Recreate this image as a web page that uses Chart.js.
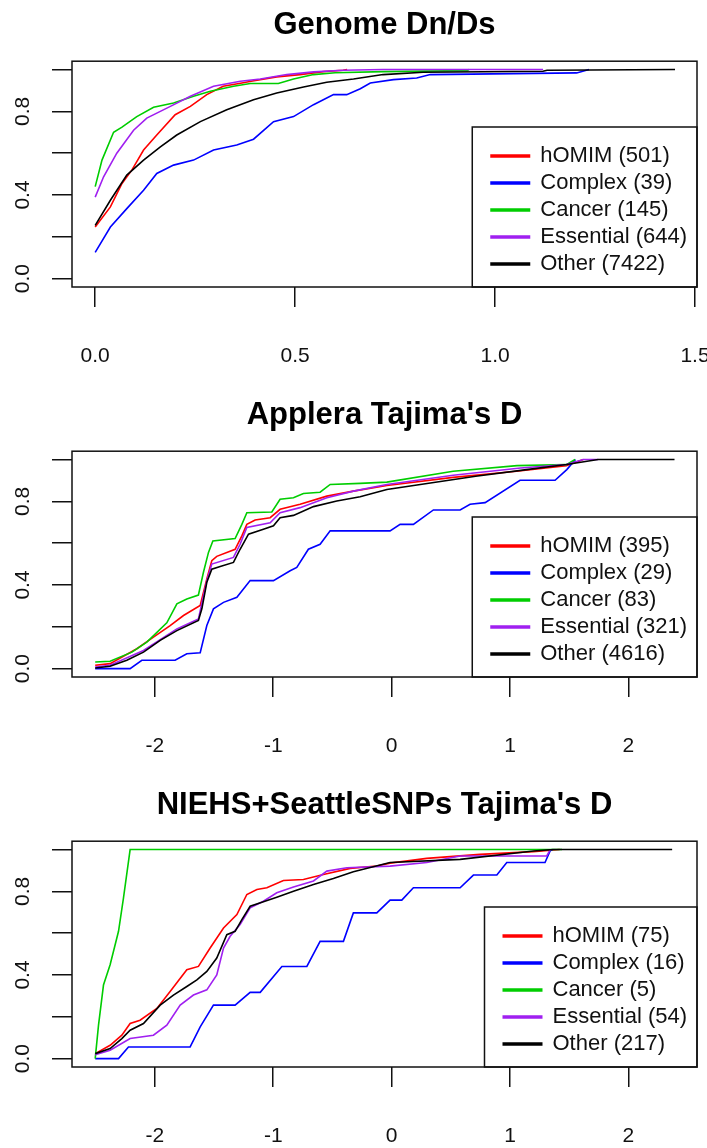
<!DOCTYPE html>
<html>
<head>
<meta charset="utf-8">
<title>ECDF panels</title>
<script src="https://cdn.jsdelivr.net/npm/chart.js@4.4.1/dist/chart.umd.min.js"></script>
<style>
  html, body { margin: 0; padding: 0; background: #fff; }
  #page { position: relative; width: 707px; height: 1148px; overflow: hidden; }
  .panel { position: absolute; left: 0; width: 707px; height: 389px; }
</style>
</head>
<body>
<div id="page">
  <div class="panel" style="top:0px"><canvas id="dndsChart"></canvas></div>
  <div class="panel" style="top:390px"><canvas id="appleraChart"></canvas></div>
  <div class="panel" style="top:780px"><canvas id="niehsChart"></canvas></div>
</div>
<script>
// series order and colours used in every panel
const seriesNames = ['hOMIM', 'Complex', 'Cancer', 'Essential', 'Other'];
const seriesColors = ['#ff0000', '#0000ff', '#00cd00', '#a020f0', '#000000'];

const yTickValues = [0, 0.2, 0.4, 0.6, 0.8, 1.0];
const yTickLabels = ['0.0', '', '0.4', '', '0.8', ''];

// Genome Dn/Ds
const dndsCounts = [501, 39, 145, 644, 7422];
const dndsTicks = [0, 0.5, 1.0, 1.5];
const dndsTickLabels = ['0.0', '0.5', '1.0', '1.5'];
const dndsHomim = [[0,0.247],[0.038,0.343],[0.067,0.455],[0.092,0.52],[0.121,0.615],[0.154,0.687],[0.2,0.784],[0.238,0.824],[0.279,0.88],[0.32,0.92],[0.367,0.936],[0.39,0.944],[0.454,0.965],[0.512,0.976],[0.571,0.99],[0.62,0.997],[0.63,1.0]];
const dndsComplex = [[0,0.126],[0.038,0.247],[0.079,0.335],[0.121,0.423],[0.154,0.503],[0.196,0.543],[0.246,0.567],[0.296,0.615],[0.354,0.639],[0.396,0.667],[0.446,0.751],[0.496,0.775],[0.546,0.832],[0.596,0.88],[0.629,0.88],[0.663,0.908],[0.688,0.936],[0.746,0.952],[0.804,0.96],[0.838,0.976],[1.204,0.984],[1.235,1.0]];
const dndsCancer = [[0,0.44],[0.017,0.567],[0.046,0.70],[0.067,0.725],[0.104,0.775],[0.146,0.82],[0.196,0.84],[0.246,0.872],[0.288,0.896],[0.346,0.92],[0.388,0.933],[0.458,0.933],[0.496,0.955],[0.546,0.976],[0.6,0.985],[0.72,0.99],[0.93,0.995],[0.935,1.0]];
const dndsEssential = [[0,0.39],[0.021,0.487],[0.054,0.6],[0.096,0.71],[0.129,0.768],[0.188,0.824],[0.238,0.872],[0.296,0.92],[0.363,0.944],[0.413,0.955],[0.479,0.976],[0.546,0.989],[0.62,0.997],[0.72,1.0],[1.12,1.0]];
const dndsOther = [[0,0.255],[0.038,0.375],[0.079,0.495],[0.121,0.567],[0.163,0.63],[0.204,0.687],[0.263,0.751],[0.329,0.808],[0.396,0.856],[0.454,0.888],[0.521,0.917],[0.579,0.939],[0.646,0.955],[0.72,0.976],[0.82,0.987],[1.12,0.992],[1.13,0.997],[1.45,1.0]];

// Applera Tajima's D
const appleraCounts = [395, 29, 83, 321, 4616];
const tajimaTicks = [-2, -1, 0, 1, 2];
const tajimaTickLabels = ['-2', '-1', '0', '1', '2'];
const appleraHomim = [[-2.504,0.016],[-2.378,0.024],[-2.152,0.095],[-2.012,0.151],[-1.871,0.206],[-1.758,0.254],[-1.617,0.302],[-1.561,0.429],[-1.519,0.516],[-1.477,0.537],[-1.322,0.571],[-1.265,0.635],[-1.223,0.69],[-1.153,0.711],[-1.026,0.722],[-0.942,0.762],[-0.773,0.786],[-0.547,0.825],[-0.323,0.849],[-0.04,0.876],[0.52,0.915],[1.056,0.944],[1.477,0.971],[1.62,1.0]];
const appleraComplex = [[-2.504,0],[-2.209,0],[-2.11,0.04],[-1.829,0.04],[-1.73,0.071],[-1.617,0.076],[-1.561,0.206],[-1.505,0.286],[-1.42,0.317],[-1.307,0.341],[-1.195,0.421],[-0.998,0.421],[-0.857,0.468],[-0.801,0.484],[-0.703,0.571],[-0.604,0.595],[-0.519,0.659],[-0.013,0.659],[0.072,0.69],[0.184,0.69],[0.353,0.759],[0.579,0.759],[0.663,0.786],[0.79,0.794],[1.085,0.901],[1.381,0.901],[1.48,0.952],[1.553,1.0]];
const appleraCancer = [[-2.504,0.032],[-2.378,0.035],[-2.194,0.079],[-2.068,0.127],[-1.899,0.219],[-1.814,0.31],[-1.73,0.333],[-1.632,0.352],[-1.59,0.46],[-1.547,0.556],[-1.51,0.611],[-1.322,0.622],[-1.265,0.69],[-1.223,0.746],[-1.012,0.749],[-0.942,0.81],[-0.829,0.817],[-0.745,0.838],[-0.604,0.844],[-0.519,0.881],[-0.266,0.886],[-0.04,0.892],[0.52,0.944],[1.06,0.971],[1.477,0.976],[1.55,1.0]];
const appleraEssential = [[-2.504,0.008],[-2.378,0.016],[-2.096,0.087],[-1.814,0.19],[-1.632,0.238],[-1.561,0.421],[-1.519,0.5],[-1.336,0.532],[-1.28,0.595],[-1.223,0.675],[-1.026,0.698],[-0.942,0.746],[-0.773,0.77],[-0.547,0.817],[-0.323,0.849],[-0.04,0.881],[0.52,0.925],[1.09,0.96],[1.477,0.976],[1.62,1.0],[1.745,1.0]];
const appleraOther = [[-2.504,0.003],[-2.378,0.011],[-2.237,0.04],[-2.096,0.079],[-1.955,0.135],[-1.814,0.182],[-1.632,0.23],[-1.603,0.286],[-1.561,0.413],[-1.519,0.476],[-1.448,0.489],[-1.336,0.508],[-1.28,0.571],[-1.209,0.643],[-1.083,0.667],[-0.998,0.683],[-0.942,0.722],[-0.829,0.733],[-0.66,0.775],[-0.463,0.802],[-0.266,0.822],[-0.04,0.857],[0.71,0.92],[1.14,0.952],[1.477,0.976],[1.745,1.0],[2.39,1.0]];

// NIEHS+SeattleSNPs Tajima's D
const niehsCounts = [75, 16, 5, 54, 217];
const niehsHomim = [[-2.504,0.024],[-2.378,0.064],[-2.279,0.112],[-2.209,0.168],[-2.125,0.184],[-1.983,0.24],[-1.871,0.321],[-1.73,0.425],[-1.632,0.441],[-1.533,0.529],[-1.42,0.625],[-1.307,0.689],[-1.223,0.785],[-1.138,0.809],[-1.054,0.817],[-0.914,0.852],[-0.745,0.857],[-0.576,0.881],[-0.35,0.91],[-0.125,0.921],[-0.013,0.935],[0.297,0.958],[0.747,0.977],[1.198,0.99],[1.42,1.0]];
const niehsComplex = [[-2.504,0],[-2.307,0],[-2.223,0.056],[-1.702,0.056],[-1.617,0.152],[-1.505,0.256],[-1.322,0.256],[-1.195,0.317],[-1.11,0.317],[-0.927,0.441],[-0.716,0.441],[-0.604,0.561],[-0.407,0.561],[-0.323,0.697],[-0.125,0.697],[-0.013,0.758],[0.086,0.758],[0.184,0.817],[0.579,0.817],[0.691,0.878],[0.889,0.878],[0.973,0.938],[1.296,0.938],[1.339,0.994],[1.36,1.0]];
const niehsCancer = [[-2.504,0],[-2.476,0.16],[-2.434,0.352],[-2.378,0.449],[-2.307,0.609],[-2.265,0.769],[-2.209,1.0],[1.44,1.0]];
const niehsEssential = [[-2.504,0.019],[-2.378,0.04],[-2.209,0.096],[-2.012,0.112],[-1.899,0.16],[-1.786,0.256],[-1.674,0.304],[-1.561,0.329],[-1.477,0.4],[-1.42,0.529],[-1.364,0.585],[-1.28,0.641],[-1.195,0.721],[-1.083,0.753],[-0.97,0.793],[-0.829,0.821],[-0.66,0.85],[-0.547,0.897],[-0.378,0.913],[-0.013,0.921],[0.297,0.938],[0.579,0.969],[1.31,0.969],[1.34,1.0]];
const niehsOther = [[-2.504,0.024],[-2.378,0.048],[-2.279,0.096],[-2.209,0.136],[-2.096,0.168],[-1.955,0.256],[-1.843,0.304],[-1.73,0.345],[-1.645,0.377],[-1.561,0.417],[-1.477,0.481],[-1.392,0.593],[-1.322,0.609],[-1.265,0.665],[-1.195,0.729],[-1.083,0.75],[-0.97,0.772],[-0.829,0.801],[-0.66,0.833],[-0.492,0.862],[-0.323,0.894],[-0.013,0.938],[0.579,0.953],[1.198,0.993],[1.367,1.0],[2.37,1.0]];

const FONT = '"Liberation Sans", Arial, sans-serif';
const INK = '#111';

// legend box in the lower right corner plus the frame round the plot
const boxAndLegend = {
    id: 'boxAndLegend',
    afterDraw(chart) {
        const { ctx, chartArea: a } = chart;
        const sets = chart.data.datasets;
        ctx.save();
        ctx.font = '22px ' + FONT;
        const maxW = Math.max(...sets.map(d => ctx.measureText(d.label).width));
        const w = 18 + 40 + 10 + maxW + 10;
        const h = 160;
        const left = a.right - w;
        const top = a.bottom - h;
        ctx.fillStyle = '#fff';
        ctx.fillRect(left, top, w, h);
        ctx.strokeStyle = INK;
        ctx.lineWidth = 1.5;
        ctx.strokeRect(left, top, w, h);
        sets.forEach((d, i) => {
            const y = top + 29 + i * 27;
            ctx.strokeStyle = d.borderColor;
            ctx.lineWidth = 3.5;
            ctx.beginPath();
            ctx.moveTo(left + 18, y);
            ctx.lineTo(left + 58, y);
            ctx.stroke();
            ctx.fillStyle = INK;
            ctx.textBaseline = 'middle';
            ctx.textAlign = 'left';
            ctx.fillText(d.label, left + 68, y);
        });
        ctx.strokeStyle = INK;
        ctx.lineWidth = 1.5;
        ctx.strokeRect(a.left, a.top, a.right - a.left, a.bottom - a.top);
        ctx.restore();
    }
};

function makePanel(canvasId, title, series, counts, xMin, xMax, xTicks, xTickLabels) {
    const datasets = series.map((pts, i) => ({
        label: seriesNames[i] + ' (' + counts[i] + ')',
        data: pts.map(p => ({ x: p[0], y: p[1] })),
        borderColor: seriesColors[i],
        borderWidth: 1.6,
        pointRadius: 0,
        tension: 0,
        fill: false,
        order: series.length - 1 - i
    }));

    new Chart(document.getElementById(canvasId), {
        type: 'line',
        data: { datasets: datasets },
        plugins: [boxAndLegend],
        options: {
            responsive: true,
            maintainAspectRatio: false,
            animation: false,
            devicePixelRatio: 1,
            layout: { padding: { left: 0, right: 10, top: 0, bottom: 0 } },
            plugins: {
                legend: { display: false },
                tooltip: { enabled: false },
                title: {
                    display: true,
                    text: title,
                    fullSize: false,
                    color: '#000',
                    font: { family: FONT, size: 31, weight: 'bold' },
                    padding: { top: 7, bottom: 17 }
                }
            },
            scales: {
                x: {
                    type: 'linear',
                    min: xMin,
                    max: xMax,
                    afterBuildTicks: s => { s.ticks = xTicks.map(v => ({ value: v })); },
                    afterFit: s => { s.height = 102; s.paddingLeft = 0; s.paddingRight = 0; },
                    grid: { drawOnChartArea: false, drawTicks: true, tickLength: 20, color: INK, lineWidth: 1.5 },
                    border: { display: false },
                    ticks: {
                        autoSkip: false,
                        maxRotation: 0,
                        padding: 37,
                        color: INK,
                        font: { family: FONT, size: 21 },
                        callback: (v, i) => xTickLabels[i]
                    }
                },
                y: {
                    type: 'linear',
                    min: -0.04,
                    max: 1.04,
                    afterBuildTicks: s => { s.ticks = yTickValues.map(v => ({ value: v })); },
                    afterFit: s => { s.width = 72; s.paddingTop = 0; s.paddingBottom = 0; },
                    grid: { drawOnChartArea: false, drawTicks: true, tickLength: 20, color: INK, lineWidth: 1.5 },
                    border: { display: false },
                    ticks: {
                        autoSkip: false,
                        minRotation: 90,
                        maxRotation: 90,
                        crossAlign: 'center',
                        padding: 14,
                        color: INK,
                        font: { family: FONT, size: 21 },
                        callback: (v, i) => yTickLabels[i]
                    }
                }
            }
        }
    });
}

document.addEventListener('DOMContentLoaded', function() {
    makePanel('dndsChart', 'Genome Dn/Ds',
        [dndsHomim, dndsComplex, dndsCancer, dndsEssential, dndsOther],
        dndsCounts, -0.058, 1.505, dndsTicks, dndsTickLabels);
    makePanel('appleraChart', "Applera Tajima's D",
        [appleraHomim, appleraComplex, appleraCancer, appleraEssential, appleraOther],
        appleraCounts, -2.70, 2.58, tajimaTicks, tajimaTickLabels);
    makePanel('niehsChart', "NIEHS+SeattleSNPs Tajima's D",
        [niehsHomim, niehsComplex, niehsCancer, niehsEssential, niehsOther],
        niehsCounts, -2.70, 2.58, tajimaTicks, tajimaTickLabels);
});
</script>
</body>
</html>
